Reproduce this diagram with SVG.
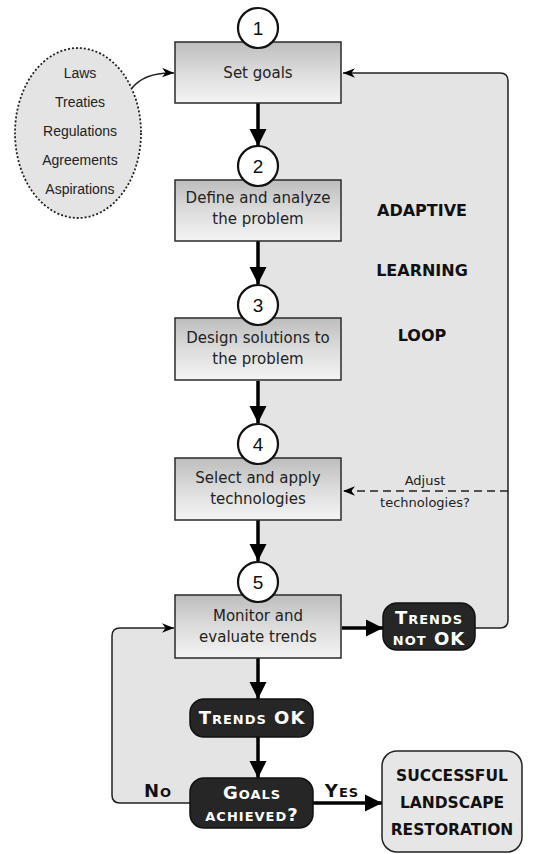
<svg xmlns="http://www.w3.org/2000/svg" width="536" height="854" viewBox="0 0 536 854">
<style>
.box{stroke:#2a2a2a;stroke-width:1.5;fill:url(#g)}
.t{font-family:"DejaVu Sans",Verdana,sans-serif;font-size:15px;fill:#222;text-anchor:middle}
.a{font-family:"DejaVu Sans",Verdana,sans-serif;font-size:13px;fill:#222;text-anchor:middle}
.e{font-family:"Liberation Sans",Arial,sans-serif;font-size:14px;fill:#222;text-anchor:middle}
.b{font-family:"DejaVu Sans",Verdana,sans-serif;font-size:16px;font-weight:bold;fill:#111;text-anchor:middle}
.s{font-family:"DejaVu Sans",Verdana,sans-serif;font-size:15.5px;font-weight:bold;fill:#111;text-anchor:middle}
.dk{fill:#262626;stroke:#111;stroke-width:1.5}
.w{font-family:"DejaVu Sans",Verdana,sans-serif;font-size:18px;font-weight:bold;fill:#fff;text-anchor:middle;font-variant:small-caps;letter-spacing:1px}
.k{font-family:"DejaVu Sans",Verdana,sans-serif;font-size:18px;font-weight:bold;fill:#111;text-anchor:middle;font-variant:small-caps;letter-spacing:1px}
.c{fill:#fff;stroke:#111;stroke-width:2.2}
.n{font-family:"Liberation Sans",Arial,sans-serif;font-size:19px;fill:#111;text-anchor:middle}
.thick{stroke:#000;stroke-width:3.5;fill:none;marker-end:url(#big)}
.thin{stroke:#222;stroke-width:1.5;fill:none}
</style>
<defs>
<linearGradient id="g" x1="0" y1="0" x2="0" y2="1">
<stop offset="0" stop-color="#bdbdbd"/>
<stop offset="0.5" stop-color="#dcdcdc"/>
<stop offset="1" stop-color="#f4f4f4"/>
</linearGradient>
<marker id="big" viewBox="0 0 10 10" refX="10" refY="5" markerWidth="5" markerHeight="5" orient="auto" markerUnits="strokeWidth">
<path d="M0 0 L10 5 L0 10 Z" fill="#000"/>
</marker>
<marker id="sm" viewBox="0 0 10 10" refX="10" refY="5" markerWidth="8" markerHeight="8" orient="auto" markerUnits="strokeWidth">
<path d="M0 1 L10 5 L0 9 L3 5 Z" fill="#000"/>
</marker>
</defs>
<g id="loop-fill">
<path d="M258 73 L500 73 Q508 73 508 81 L508 620 Q508 628 500 628 L258 628 Z" fill="#e4e4e4"/>
<path d="M120 628 L258 628 L258 803 L120 803 Q112 803 112 795 L112 636 Q112 628 120 628 Z" fill="#e4e4e4"/>
</g>
<g id="connectors">
<line class="thick" x1="258" y1="103" x2="258" y2="146"/>
<line class="thick" x1="258" y1="241" x2="258" y2="284"/>
<line class="thick" x1="258" y1="381" x2="258" y2="423"/>
<line class="thick" x1="258" y1="520" x2="258" y2="561"/>
<line class="thick" x1="258" y1="658" x2="258" y2="699"/>
<line class="thick" x1="258" y1="737" x2="258" y2="778"/>
<line class="thick" x1="342" y1="628" x2="383" y2="628"/>
<line class="thick" x1="313" y1="803" x2="382" y2="803"/>
<path class="thin" d="M475 628 L500 628 Q508 628 508 620 L508 81 Q508 73 500 73 L343 73" marker-end="url(#sm)"/>
<path class="thin" d="M508 491 L343 491" stroke-dasharray="8 5" marker-end="url(#sm)"/>
<path class="thin" d="M190 803 L120 803 Q112 803 112 795 L112 636 Q112 628 120 628 L174 628" marker-end="url(#sm)"/>
<path class="thin" d="M132 88 Q145 72 174 73" marker-end="url(#sm)"/>
</g>
<g id="sources">
<ellipse cx="78" cy="133" rx="63" ry="85" fill="#e4e4e4" stroke="#222" stroke-width="1.8" stroke-dasharray="2 2"/>
<text class="e" x="80" y="78">Laws</text>
<text class="e" x="80" y="107">Treaties</text>
<text class="e" x="80" y="136">Regulations</text>
<text class="e" x="80" y="165">Agreements</text>
<text class="e" x="80" y="194">Aspirations</text>
</g>
<g id="step1">
<rect class="box" x="175" y="42" width="166" height="61"/>
<text class="t" x="258" y="78">Set goals</text>
<circle class="c" cx="258" cy="28" r="20"/>
<text class="n" x="258" y="35">1</text>
</g>
<g id="step2">
<rect class="box" x="175" y="180" width="166" height="61"/>
<text class="t" x="258" y="203">Define and analyze</text>
<text class="t" x="258" y="224">the problem</text>
<circle class="c" cx="258" cy="166" r="20"/>
<text class="n" x="258" y="173">2</text>
</g>
<g id="step3">
<rect class="box" x="175" y="318" width="166" height="62"/>
<text class="t" x="258" y="343">Design solutions to</text>
<text class="t" x="258" y="364">the problem</text>
<circle class="c" cx="258" cy="305" r="20"/>
<text class="n" x="258" y="312">3</text>
</g>
<g id="step4">
<rect class="box" x="175" y="458" width="166" height="62"/>
<text class="t" x="258" y="483">Select and apply</text>
<text class="t" x="258" y="504">technologies</text>
<circle class="c" cx="258" cy="444" r="20"/>
<text class="n" x="258" y="451">4</text>
</g>
<g id="step5">
<rect class="box" x="175" y="595" width="166" height="63"/>
<text class="t" x="258" y="621">Monitor and</text>
<text class="t" x="258" y="642">evaluate trends</text>
<circle class="c" cx="258" cy="582" r="20"/>
<text class="n" x="258" y="589">5</text>
</g>
<g id="loop-label">
<text class="b" x="422" y="216">ADAPTIVE</text>
<text class="b" x="422" y="276">LEARNING</text>
<text class="b" x="422" y="341">LOOP</text>
</g>
<g id="adjust-label">
<text class="a" x="425" y="485">Adjust</text>
<text class="a" x="425" y="507">technologies?</text>
</g>
<g id="trends-not-ok">
<rect class="dk" x="383" y="603" width="92" height="47" rx="14"/>
<text class="w" x="429" y="624">Trends</text>
<text class="w" x="429" y="645">not OK</text>
</g>
<g id="trends-ok">
<rect class="dk" x="190" y="699" width="123" height="38" rx="14"/>
<text class="w" x="252" y="724">Trends OK</text>
</g>
<g id="goals-achieved">
<rect class="dk" x="190" y="778" width="123" height="50" rx="14"/>
<text class="w" x="252" y="799">Goals</text>
<text class="w" x="252" y="821">achieved?</text>
</g>
<g id="labels">
<text class="k" x="158" y="797">No</text>
<text class="k" x="342" y="797">Yes</text>
</g>
<g id="success">
<rect x="382" y="751" width="140" height="101" rx="15" fill="#e6e6e6" stroke="#222" stroke-width="1.5"/>
<text class="s" x="452" y="781">SUCCESSFUL</text>
<text class="s" x="452" y="808">LANDSCAPE</text>
<text class="s" x="452" y="835">RESTORATION</text>
</g>
</svg>
